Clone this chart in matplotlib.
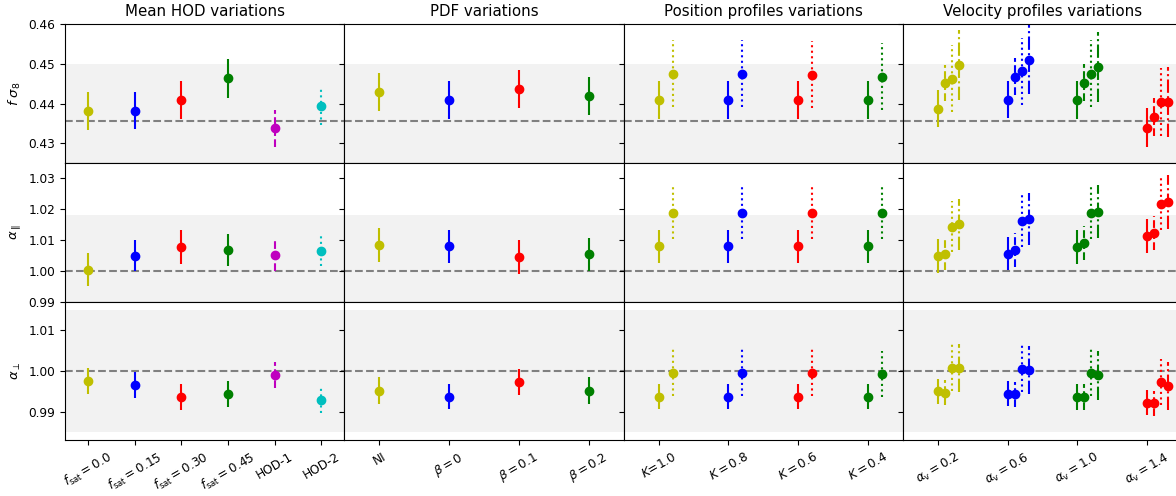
import matplotlib
matplotlib.use('Agg')
import matplotlib.pyplot as plt
import numpy as np

titles = ['Mean HOD variations', 'PDF variations', 'Position profiles variations', 'Velocity profiles variations']
hod_labels = [r'$f_{\rm sat}=0.0$', r'$f_{\rm sat}=0.15$', r'$f_{\rm sat}=0.30$', r'$f_{\rm sat}=0.45$', 'HOD-1', 'HOD-2']
pdf_labels = ['NI', r'$\beta=0$', r'$\beta=0.1$', r'$\beta=0.2$']
pos_labels = [r'$K$=1.0', r'$K=0.8$', r'$K=0.6$', r'$K=0.4$']
vel_labels = [r'$\alpha_{\rm v}=0.2$', r'$\alpha_{\rm v}=0.6$', r'$\alpha_{\rm v}=1.0$', r'$\alpha_{\rm v}=1.4$']

hod_colors = ['y', 'b', 'r', 'g', 'm', 'c']
hod_styles = ['-', '-', '-', '-', '--', ':']
grp_colors = ['y', 'b', 'r', 'g']
vel_colors = ['y', 'b', 'g', 'r']
pos_styles = ['-', ':']
pos_shift = [0.0, 0.2]
vel_styles = ['-', '--', ':', '-.']
vel_shift = [0.0, 0.1, 0.2, 0.3]

# fiducial values, grey bands and axis ranges for each row
fid = [0.4357, 1.0, 1.0]
band = [(0.4214, 0.450), (0.982, 1.018), (0.985, 1.015)]
ylims = [(0.425, 0.46), (0.99, 1.035), (0.983, 1.017)]
yticks = [[0.43, 0.44, 0.45, 0.46], [0.99, 1.00, 1.01, 1.02, 1.03], [0.99, 1.00, 1.01]]
ylabels = [r'$f\ \sigma_8$', r'$\alpha_\parallel$', r'$\alpha_\perp$']

# f sigma_8
fs8_hod = [0.4382, 0.4382, 0.4408, 0.4464, 0.4337, 0.4393]
fs8_hod_err = [0.0048, 0.0047, 0.0048, 0.0049, 0.0047, 0.0046]
fs8_pdf = [0.4430, 0.4409, 0.4437, 0.4419]
fs8_pdf_err = [0.0048, 0.0047, 0.0048, 0.0048]
fs8_pos = [[0.4409, 0.4475], [0.4409, 0.4475], [0.4409, 0.4473], [0.4408, 0.4468]]
fs8_pos_err = [[0.0048, 0.0084], [0.0048, 0.0084], [0.0048, 0.0084], [0.0048, 0.0084]]
fs8_vel = [[0.4387, 0.4452, 0.4463, 0.4497],
           [0.4410, 0.4468, 0.4481, 0.4511],
           [0.4409, 0.4453, 0.4475, 0.4492],
           [0.4339, 0.4365, 0.4404, 0.4403]]
fs8_vel_err = [[0.0046, 0.0046, 0.0084, 0.0088],
               [0.0047, 0.0046, 0.0084, 0.0088],
               [0.0047, 0.0047, 0.0084, 0.0088],
               [0.0049, 0.0048, 0.0085, 0.0088]]

# alpha parallel
apar_hod = [1.0004, 1.0049, 1.0078, 1.0067, 1.0051, 1.0064]
apar_hod_err = [0.0053, 0.0050, 0.0055, 0.0053, 0.0053, 0.0050]
apar_pdf = [1.0084, 1.0079, 1.0045, 1.0054]
apar_pdf_err = [0.0055, 0.0055, 0.0054, 0.0054]
apar_pos = [[1.0079, 1.0188], [1.0079, 1.0188], [1.0079, 1.0188], [1.0079, 1.0188]]
apar_pos_err = [[0.0055, 0.0084], [0.0055, 0.0084], [0.0055, 0.0084], [0.0055, 0.0084]]
apar_vel = [[1.0048, 1.0056, 1.0143, 1.0151],
            [1.0056, 1.0068, 1.0162, 1.0167],
            [1.0078, 1.0090, 1.0188, 1.0192],
            [1.0113, 1.0122, 1.0216, 1.0223]]
apar_vel_err = [[0.0054, 0.0054, 0.0082, 0.0083],
                [0.0054, 0.0055, 0.0085, 0.0084],
                [0.0055, 0.0054, 0.0085, 0.0085],
                [0.0055, 0.0055, 0.0084, 0.0087]]

# alpha perpendicular
aper_hod = [0.9975, 0.9966, 0.9936, 0.9943, 0.9991, 0.9928]
aper_hod_err = [0.0032, 0.0032, 0.0031, 0.0032, 0.0032, 0.0032]
aper_pdf = [0.9952, 0.9937, 0.9973, 0.9951]
aper_pdf_err = [0.0032, 0.0031, 0.0032, 0.0033]
aper_pos = [[0.9937, 0.9996], [0.9937, 0.9996], [0.9937, 0.9996], [0.9937, 0.9993]]
aper_pos_err = [[0.0031, 0.0057], [0.0031, 0.0057], [0.0031, 0.0057], [0.0031, 0.0057]]
aper_vel = [[0.9950, 0.9947, 1.0008, 1.0007],
            [0.9944, 0.9943, 1.0006, 1.0003],
            [0.9936, 0.9936, 0.9996, 0.9989],
            [0.9922, 0.9921, 0.9973, 0.9963]]
aper_vel_err = [[0.0031, 0.0031, 0.0057, 0.0059],
                [0.0031, 0.0031, 0.0057, 0.0059],
                [0.0031, 0.0031, 0.0057, 0.0059],
                [0.0031, 0.0031, 0.0057, 0.0059]]

rows = [(fs8_hod, fs8_hod_err, fs8_pdf, fs8_pdf_err, fs8_pos, fs8_pos_err, fs8_vel, fs8_vel_err),
        (apar_hod, apar_hod_err, apar_pdf, apar_pdf_err, apar_pos, apar_pos_err, apar_vel, apar_vel_err),
        (aper_hod, aper_hod_err, aper_pdf, aper_pdf_err, aper_pos, aper_pos_err, aper_vel, aper_vel_err)]


def point(ax, x, y, err, color, ls):
    eb = ax.errorbar(x, y, yerr=err, fmt='o', color=color, ms=6, elinewidth=1.5)
    eb[2][0].set_linestyle(ls)


fig = plt.figure(figsize=(11.76, 4.96), dpi=100)
left, width = 0.0553, 0.2375
bottom, height = 0.1123, 0.2796

for r in range(3):
    hod, hod_e, pdf, pdf_e, pos, pos_e, vel, vel_e = rows[r]
    axs = []
    for c in range(4):
        rect = [left + c * width, bottom + (2 - r) * height, width, height]
        ax = fig.add_axes(rect, sharey=axs[0] if axs else None)
        axs.append(ax)
        ax.axhspan(band[r][0], band[r][1], color='grey', alpha=0.1, lw=0)
        ax.axhline(fid[r], color='grey', ls='--', lw=1.5)

    ax = axs[0]
    for i in range(len(hod)):
        point(ax, i, hod[i], hod_e[i], hod_colors[i], hod_styles[i])
    ax.set_xlim(-0.5, len(hod) - 0.5)
    ax.set_xticks(np.arange(len(hod)))
    ax.set_xticklabels(hod_labels)

    ax = axs[1]
    for i in range(len(pdf)):
        point(ax, i, pdf[i], pdf_e[i], grp_colors[i], '-')
    ax.set_xlim(-0.5, len(pdf) - 0.5)
    ax.set_xticks(np.arange(len(pdf)))
    ax.set_xticklabels(pdf_labels)

    ax = axs[2]
    for i in range(len(pos)):
        for k in range(len(pos[i])):
            point(ax, i + pos_shift[k], pos[i][k], pos_e[i][k], grp_colors[i], pos_styles[k])
    ax.set_xlim(-0.5, len(pos) - 0.5)
    ax.set_xticks(np.arange(len(pos)))
    ax.set_xticklabels(pos_labels)

    ax = axs[3]
    for i in range(len(vel)):
        for k in range(len(vel[i])):
            point(ax, i + vel_shift[k], vel[i][k], vel_e[i][k], vel_colors[i], vel_styles[k])
    ax.set_xlim(-0.5, len(vel) - 0.5)
    ax.set_xticks(np.arange(len(vel)))
    ax.set_xticklabels(vel_labels)

    axs[0].set_ylim(ylims[r])
    axs[0].set_yticks(yticks[r])
    axs[0].set_ylabel(ylabels[r], fontsize=9.5)
    for c, ax in enumerate(axs):
        ax.tick_params(labelsize=8.7)
        if c > 0:
            ax.tick_params(labelleft=False)
        if r < 2:
            ax.tick_params(bottom=False, labelbottom=False)
        else:
            for lab in ax.get_xticklabels():
                lab.set_rotation(30)
        if r == 0:
            ax.set_title(titles[c], fontsize=10.8)

fig.savefig('out.png', dpi=100)
